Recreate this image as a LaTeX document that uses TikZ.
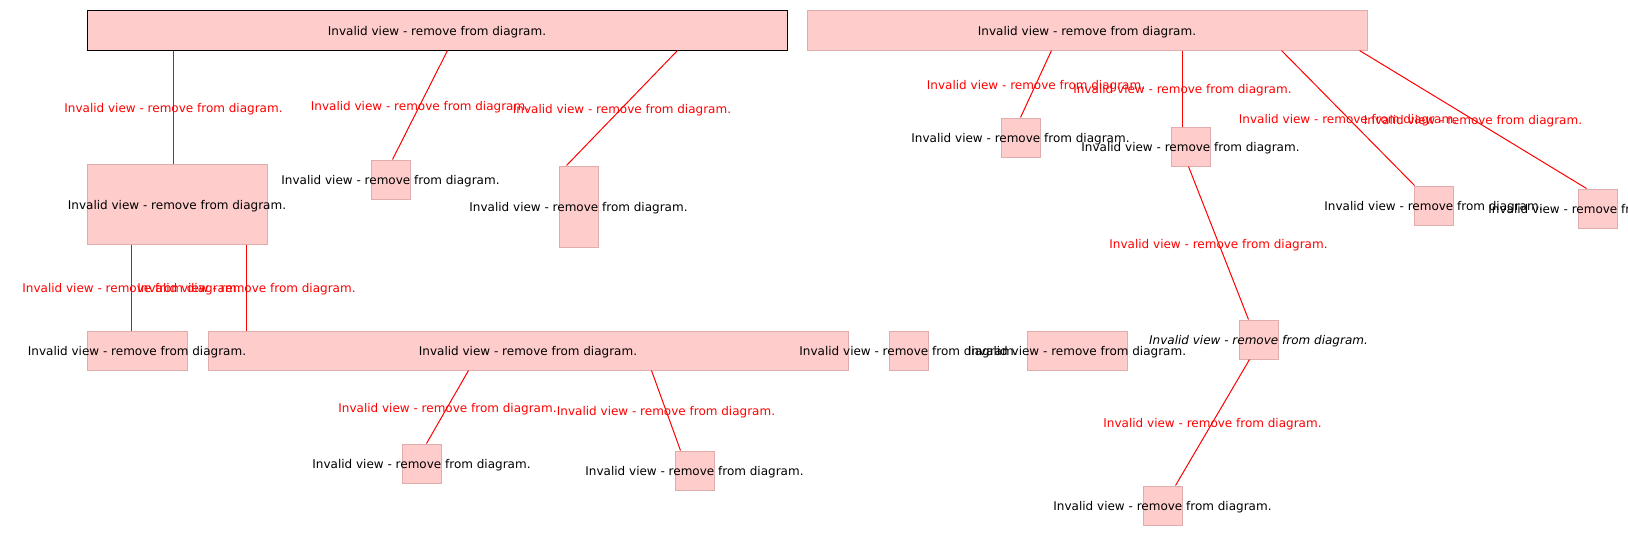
\documentclass[tikz,border=0pt]{standalone}
\usepackage{fontspec}
\setmainfont{DejaVu Sans}
\definecolor{viewfill}{RGB}{255,204,204}
\definecolor{viewline}{RGB}{224,172,172}
\begin{document}
\begin{tikzpicture}[x=1pt, y=-1pt,
		view/.style={draw=viewline, fill=viewfill, line width=1pt, inner sep=0pt},
		viewtext/.style={font=\fontsize{12}{14}\selectfont, text=black, inner sep=0pt, yshift=-2pt},
		rel/.style={draw=red, line width=1pt},
		rellabel/.style={font=\fontsize{12}{14}\selectfont, text=red, inner sep=0pt, yshift=-2pt}]
			\useasboundingbox (0,0) rectangle (1628,536);
			% views
			\node[view, draw=black, minimum width=700pt, minimum height=40pt] (root) at (437,30) {};
			\node[view, minimum width=560pt, minimum height=40pt] (tr) at (1087,30) {};
			\node[view, minimum width=180pt, minimum height=80pt] (a) at (177,204) {};
			\node[view, minimum width=39pt, minimum height=39pt] (b) at (390.5,179.5) {};
			\node[view, minimum width=39pt, minimum height=81pt] (c) at (578.5,206.5) {};
			\node[view, minimum width=100pt, minimum height=39pt] (d) at (137,350.5) {};
			\node[view, minimum width=640pt, minimum height=39pt] (e) at (528,350.5) {};
			\node[view, minimum width=39pt, minimum height=39pt] (f) at (908.5,350.5) {};
			\node[view, minimum width=100pt, minimum height=39pt] (g) at (1077,350.5) {};
			\node[view, minimum width=39pt, minimum height=39pt] (h) at (1258.5,339.5) {};
			\node[view, minimum width=39pt, minimum height=39pt] (i) at (1162.5,505.5) {};
			\node[view, minimum width=39pt, minimum height=39pt] (j) at (1020.5,137.5) {};
			\node[view, minimum width=39pt, minimum height=39pt] (k) at (1190.5,146.5) {};
			\node[view, minimum width=39pt, minimum height=39pt] (l) at (1433.5,205.5) {};
			\node[view, minimum width=39pt, minimum height=39pt] (m) at (1597.5,208.5) {};
			\node[view, minimum width=39pt, minimum height=39pt] (n) at (421.5,463.5) {};
			\node[view, minimum width=39pt, minimum height=39pt] (o) at (694.5,470.5) {};
			% relations
			\draw[rel] ([xshift=87pt]root.south west) -- node[rellabel] (r1) {Invalid view - remove from diagram.} ([xshift=87pt]a.north west);
			\draw[rel] ([xshift=361pt]root.south west) -- node[rellabel] (r2) {Invalid view - remove from diagram.} ([xshift=22pt]b.north west);
			\draw[rel] ([xshift=591pt]root.south west) -- node[rellabel] (r3) {Invalid view - remove from diagram.} ([xshift=8pt]c.north west);
			\draw[rel] ([xshift=45pt]a.south west) -- node[rellabel] (r4) {Invalid view - remove from diagram.} ([xshift=45pt]d.north west);
			\draw[rel] ([xshift=160pt]a.south west) -- node[rellabel] (r5) {Invalid view - remove from diagram.} ([xshift=39pt]e.north west);
			\draw[rel] ([xshift=261pt]e.south west) -- node[rellabel] (r6) {Invalid view - remove from diagram.} ([xshift=25pt]n.north west);
			\draw[rel] ([xshift=444pt]e.south west) -- node[rellabel] (r7) {Invalid view - remove from diagram.} ([xshift=6pt]o.north west);
			\draw[rel] ([xshift=245pt]tr.south west) -- node[rellabel] (r8) {Invalid view - remove from diagram.} ([xshift=20pt]j.north west);
			\draw[rel] ([xshift=376pt]tr.south west) -- node[rellabel] (r9) {Invalid view - remove from diagram.} ([xshift=12pt]k.north west);
			\draw[rel] ([xshift=475pt]tr.south west) -- node[rellabel] (r10) {Invalid view - remove from diagram.} ([xshift=1pt]l.north west);
			\draw[rel] ([xshift=553pt]tr.south west) -- node[rellabel] (r11) {Invalid view - remove from diagram.} ([xshift=9pt]m.north west);
			\draw[rel] ([xshift=18pt]k.south west) -- node[rellabel] (r12) {Invalid view - remove from diagram.} ([xshift=10pt]h.north west);
			\draw[rel] ([xshift=11pt]h.south west) -- node[rellabel] (r13) {Invalid view - remove from diagram.} ([xshift=33pt]i.north west);
			% view texts
			\node[viewtext] (root-t) at (root) {Invalid view - remove from diagram.};
			\node[viewtext] (tr-t) at (tr) {Invalid view - remove from diagram.};
			\node[viewtext] (a-t) at (a) {Invalid view - remove from diagram.};
			\node[viewtext] (b-t) at (b) {Invalid view - remove from diagram.};
			\node[viewtext] (c-t) at (c) {Invalid view - remove from diagram.};
			\node[viewtext] (d-t) at (d) {Invalid view - remove from diagram.};
			\node[viewtext] (e-t) at (e) {Invalid view - remove from diagram.};
			\node[viewtext] (f-t) at (f) {Invalid view - remove from diagram.};
			\node[viewtext] (g-t) at (g) {Invalid view - remove from diagram.};
			\node[viewtext, font=\fontsize{12}{14}\selectfont\itshape] (h-t) at (h) {Invalid view - remove from diagram.};
			\node[viewtext] (i-t) at (i) {Invalid view - remove from diagram.};
			\node[viewtext] (j-t) at (j) {Invalid view - remove from diagram.};
			\node[viewtext] (k-t) at (k) {Invalid view - remove from diagram.};
			\node[viewtext] (l-t) at (l) {Invalid view - remove from diagram.};
			\node[viewtext] (m-t) at (m) {Invalid view - remove from diagram.};
			\node[viewtext] (n-t) at (n) {Invalid view - remove from diagram.};
			\node[viewtext] (o-t) at (o) {Invalid view - remove from diagram.};
		\end{tikzpicture}
\end{document}
